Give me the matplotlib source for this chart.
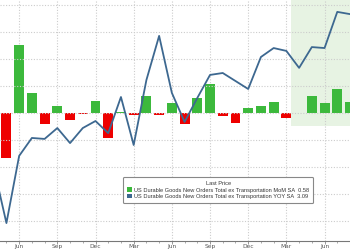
import numpy as np
import matplotlib
matplotlib.use("Agg")
import matplotlib.pyplot as plt
from matplotlib.patches import Patch

# Monthly periods (first bar = May, last partially visible = Aug)
months = ["May", "Jun", "Jul", "Aug", "Sep", "Oct", "Nov", "Dec", "Jan", "Feb", "Mar", "Apr",
          "May", "Jun", "Jul", "Aug", "Sep", "Oct", "Nov", "Dec", "Jan", "Feb", "Mar", "Apr",
          "May", "Jun", "Jul", "Aug"]
tick_labels = ["Jun", "Sep", "Dec", "Mar", "Jun", "Sep", "Dec", "Mar", "Jun"]

# MoM SA (%)
mom = [-2.37, 3.58, 1.05, -0.58, 0.37, -0.37, -0.05, 0.63, -1.32, 0.05, -0.11, 0.89,
       -0.13, 0.53, -0.58, 0.79, 1.53, -0.16, -0.53, 0.26, 0.37, 0.58, -0.26, 0.02,
       0.89, 0.53, 1.26, 0.58]
# YoY SA (%), starts one month earlier (Apr)
yoy = [-1.69, -3.44, -1.34, -0.78, -0.81, -0.47, -0.94, -0.47, -0.25, -0.63, 0.50, -1.00,
       1.03, 2.41, 0.63, -0.28, 0.47, 1.19, 1.25, 1.00, 0.75, 1.75, 2.03, 1.94,
       1.41, 2.06, 2.03, 3.16, 3.09]

mom_label = "US Durable Goods New Orders Total ex Transportation MoM SA  0.58"
yoy_label = "US Durable Goods New Orders Total ex Transportation YOY SA  3.09"

GREEN = "#3cb93c"
RED = "#ee0000"
BLUE = "#3d6890"

fig = plt.figure(figsize=(3.5, 2.5), dpi=100)
ax = fig.add_axes([0, 9 / 250, 1, 241 / 250])
ax2 = ax.twinx()

x = np.arange(len(mom))
xl = np.arange(len(yoy)) - 1

# shaded recent period
ax.axvspan(22.39, 30, ymin=115 / 241, ymax=1, color="#e7f3e3", zorder=0, lw=0)

colors = [GREEN if v >= 0 else RED for v in mom]
ax.bar(x, mom, width=0.78, color=colors, zorder=2)
ax2.plot(xl, yoy, color=BLUE, lw=1.3, zorder=3)

# scales (zero at same height)
ax.set_ylim(-128 / 19, 113 / 19)
ax2.set_ylim(-128 / 32, 113 / 32)
ax.set_xlim(-0.505, 26.69)

# grid
ax2.set_yticks(np.arange(-4, 5) * 27 / 32)
ax.set_yticks([])
ax2.yaxis.grid(True, color="#cccccc", lw=0.8, ls=(0, (1, 1.5)))
ax2.set_axisbelow(True)
ax2.tick_params(axis="y", length=0, labelright=False)
ax.set_xticks(np.arange(1, 26, 3))
ax.set_xticklabels(tick_labels)
ax.set_xticks(x, minor=True)
ax.xaxis.grid(True, which="major", color="#cccccc", lw=0.8, ls=(0, (1, 1.5)), zorder=0)
ax.tick_params(axis="x", which="major", length=2, width=0.6, color="#888888",
               labelsize=4.2, labelcolor="#555555", pad=0.3)
ax.tick_params(axis="x", which="minor", length=1.5, width=0.5, color="#888888")
ax.set_axisbelow(True)

for a in (ax, ax2):
    for s in ("top", "left", "right"):
        a.spines[s].set_visible(False)
    a.spines["bottom"].set_color("#777777")
    a.spines["bottom"].set_linewidth(0.8)
ax2.spines["bottom"].set_visible(False)

handles = [Patch(facecolor=GREEN, edgecolor="none"), Patch(facecolor=BLUE, edgecolor="none")]
leg = ax2.legend(handles, [mom_label, yoy_label], title="Last Price",
                 loc="lower left", bbox_to_anchor=(0.343, 0.145),
                 prop={"family": "Liberation Sans", "size": 4.1},
                 title_fontproperties={"family": "Liberation Sans", "size": 4.1},
                 handlelength=0.8, handleheight=0.8, handletextpad=0.4,
                 labelspacing=0.2, borderpad=0.75, frameon=True, fancybox=True,
                 edgecolor="#888888", framealpha=1)
leg.get_frame().set_linewidth(0.8)
for t in leg.get_texts():
    t.set_color("#333333")
leg.get_title().set_color("#333333")

fig.savefig("out.png", dpi=100)
